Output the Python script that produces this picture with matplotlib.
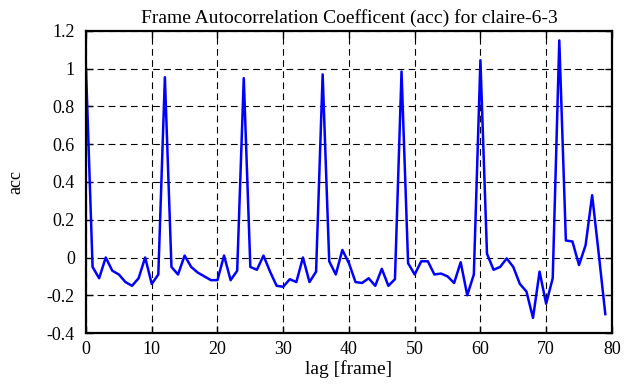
import numpy as np
import matplotlib
matplotlib.use("Agg")
import matplotlib.pyplot as plt

plt.rcParams['font.family'] = ['Liberation Serif', 'DejaVu Serif']

lags = np.arange(80)
acc = [1.0, -0.05, -0.11, 0.0, -0.07, -0.09, -0.13, -0.15, -0.11, 0.0,
       -0.14, -0.09, 0.955, -0.05, -0.09, 0.01, -0.05, -0.08, -0.10, -0.12,
       -0.12, 0.01, -0.12, -0.07, 0.95, -0.05, -0.065, 0.01, -0.075, -0.15,
       -0.155, -0.115, -0.13, 0.0, -0.13, -0.075, 0.97, -0.02, -0.09, 0.04,
       -0.03, -0.13, -0.135, -0.11, -0.15, -0.06, -0.15, -0.115, 0.985, -0.03,
       -0.09, -0.02, -0.02, -0.09, -0.085, -0.10, -0.135, -0.025, -0.20, -0.09,
       1.045, 0.02, -0.065, -0.05, -0.005, -0.05, -0.14, -0.18, -0.32, -0.075,
       -0.245, -0.11, 1.15, 0.09, 0.085, -0.04, 0.065, 0.33, 0.02, -0.30]
xticks = np.arange(0, 81, 10)
yticks = np.arange(-0.4, 1.21, 0.2)

fig = plt.figure(figsize=(6.25, 3.87), dpi=100)
ax = fig.add_axes([0.1376, 0.1395, 0.8414, 0.7805])
ax.plot(lags, acc, color='#0000ff', linewidth=1.8)

ax.set_xlim(0, 80)
ax.set_ylim(-0.4, 1.2)
ax.set_xticks(xticks)
ax.set_yticks(yticks)
ax.set_yticklabels(['%g' % round(v, 1) for v in yticks])
ax.grid(True, color='black', linestyle=(0, (6, 4)), linewidth=0.8)
ax.tick_params(direction='in', top=True, right=True, length=5, width=1, labelsize=13)
ax.tick_params(axis='y', pad=8)
ax.tick_params(axis='x', pad=6)
for s in ax.spines.values():
    s.set_linewidth(1.6)

ax.set_title('Frame Autocorrelation Coefficent (acc) for claire-6-3', fontsize=14, pad=6)
ax.set_xlabel('lag [frame]', fontsize=14, labelpad=1)
ax.set_ylabel('acc', fontsize=13, labelpad=16)

fig.savefig('out.png', dpi=100)
